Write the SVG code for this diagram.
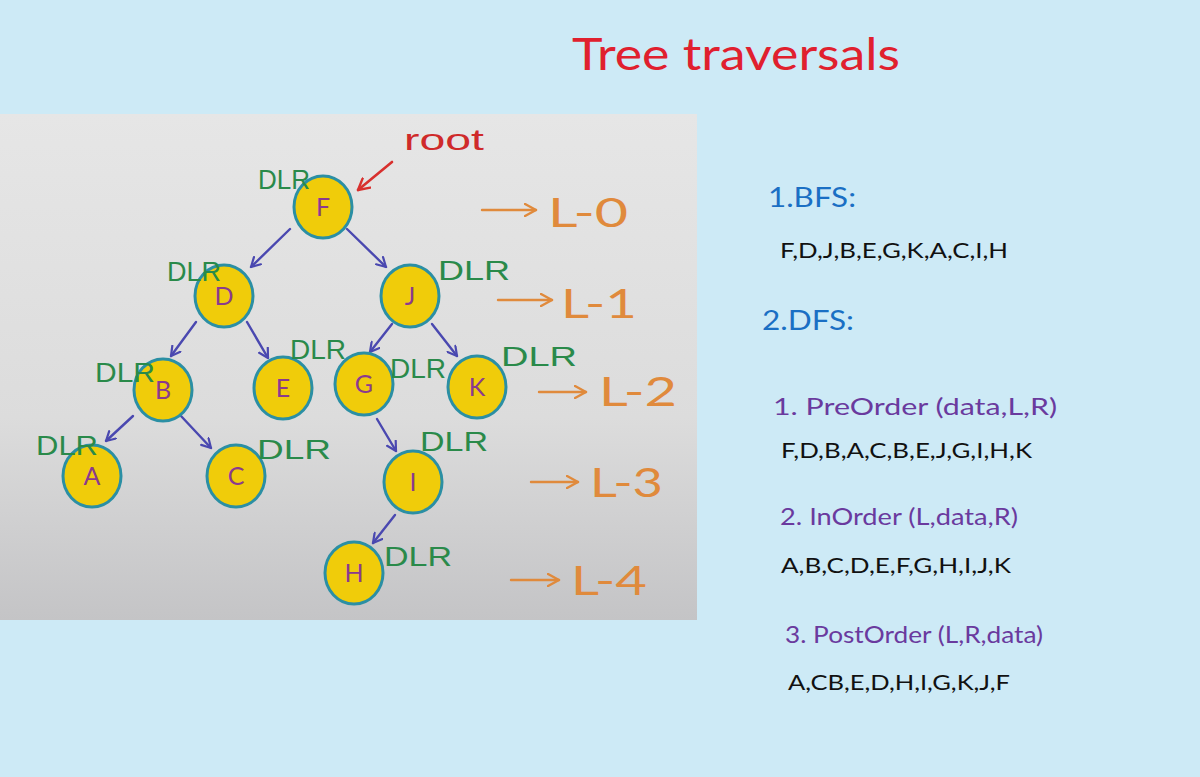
<svg xmlns="http://www.w3.org/2000/svg" width="1200" height="777" viewBox="0 0 1200 777">
<defs>
<linearGradient id="photo" x1="0" y1="0" x2="0" y2="1">
<stop offset="0" stop-color="#e6e6e6"/>
<stop offset="0.6" stop-color="#dcdcdc"/>
<stop offset="1" stop-color="#c4c4c6"/>
</linearGradient>
<marker id="ah" viewBox="0 0 12 12" refX="10" refY="6" markerWidth="12" markerHeight="12" markerUnits="userSpaceOnUse" orient="auto">
<path d="M1,1 L10,6 L1,11" fill="none" stroke="#4a48b0" stroke-width="2.2" stroke-linecap="round" stroke-linejoin="round"/>
</marker>
<marker id="ahr" viewBox="0 0 14 14" refX="12" refY="7" markerWidth="14" markerHeight="14" markerUnits="userSpaceOnUse" orient="auto">
<path d="M1,1 L12,7 L1,13" fill="none" stroke="#d8302e" stroke-width="2.4" stroke-linecap="round" stroke-linejoin="round"/>
</marker>
<marker id="aho" viewBox="0 0 14 14" refX="12" refY="7" markerWidth="14" markerHeight="14" markerUnits="userSpaceOnUse" orient="auto">
<path d="M1,1 L12,7 L1,13" fill="none" stroke="#e08a3c" stroke-width="2.4" stroke-linecap="round" stroke-linejoin="round"/>
</marker>
</defs>
<style>
.node ellipse{fill:#f0cc0a;stroke:#2b8fa4;stroke-width:3}
.node text{font-family:"Lato","Liberation Sans",sans-serif;font-size:25px;fill:#8a3a8e;text-anchor:middle}
.edge{stroke:#4a48b0;stroke-width:2.4;fill:none;marker-end:url(#ah);stroke-linecap:round}
.dlr{font-family:"Liberation Sans",sans-serif;font-size:27px;fill:#2a8a4a}
.lvl{font-family:"Lato","Liberation Sans",sans-serif;font-size:40px;fill:#e08a3c}
.lvla{stroke:#e08a3c;stroke-width:2.4;fill:none;marker-end:url(#aho);stroke-linecap:round}
.hd{font-family:"Lato","Liberation Sans",sans-serif;font-size:27px;fill:#1a6fc4}
.sub{font-family:"Lato","Liberation Sans",sans-serif;font-size:23px;fill:#6a3a9e}
.seq{font-family:"Lato","Liberation Sans",sans-serif;font-size:21px;fill:#111}
</style>
<rect width="1200" height="777" fill="#cdeaf6"/>
<rect x="0" y="114" width="697" height="506" fill="url(#photo)"/>
<text x="572" y="70" font-family="Lato, Liberation Sans, sans-serif" font-size="44" fill="#e0202e" textLength="328" lengthAdjust="spacingAndGlyphs">Tree traversals</text>

<g id="connectors">
<path class="edge" d="M290,229 L251,267"/>
<path class="edge" d="M347,229 L386,267"/>
<path class="edge" d="M196,322 L171,356"/>
<path class="edge" d="M247,322 L268,358"/>
<path class="edge" d="M392,324 L370,352"/>
<path class="edge" d="M432,324 L457,356"/>
<path class="edge" d="M133,416 L106,441"/>
<path class="edge" d="M181,416 L211,448"/>
<path class="edge" d="M377,419 L396,451"/>
<path class="edge" d="M395,515 L373,543"/>
<path d="M392,162 L358,190" stroke="#d8302e" stroke-width="2.6" fill="none" marker-end="url(#ahr)" stroke-linecap="round"/>
</g>

<text x="404" y="150" font-family="Liberation Sans, sans-serif" font-size="30" fill="#cf2a2a" textLength="80" lengthAdjust="spacingAndGlyphs">root</text>

<g id="node-F" class="node"><ellipse cx="323" cy="207" rx="29" ry="31"/><text x="323" y="216">F</text></g>
<g id="node-D" class="node"><ellipse cx="224" cy="296" rx="29" ry="31"/><text x="224" y="305">D</text></g>
<g id="node-J" class="node"><ellipse cx="410" cy="296" rx="29" ry="31"/><text x="410" y="305">J</text></g>
<g id="node-B" class="node"><ellipse cx="163" cy="390" rx="29" ry="31"/><text x="163" y="399">B</text></g>
<g id="node-E" class="node"><ellipse cx="283" cy="388" rx="29" ry="31"/><text x="283" y="397">E</text></g>
<g id="node-G" class="node"><ellipse cx="364" cy="384" rx="29" ry="31"/><text x="364" y="393">G</text></g>
<g id="node-K" class="node"><ellipse cx="477" cy="387" rx="29" ry="31"/><text x="477" y="396">K</text></g>
<g id="node-A" class="node"><ellipse cx="92" cy="476" rx="29" ry="31"/><text x="92" y="485">A</text></g>
<g id="node-C" class="node"><ellipse cx="236" cy="476" rx="29" ry="31"/><text x="236" y="485">C</text></g>
<g id="node-I" class="node"><ellipse cx="413" cy="482" rx="29" ry="31"/><text x="413" y="491">I</text></g>
<g id="node-H" class="node"><ellipse cx="354" cy="573" rx="29" ry="31"/><text x="354" y="582">H</text></g>

<g id="dlr-labels">
<text class="dlr" x="258" y="189" textLength="52" lengthAdjust="spacingAndGlyphs">DLR</text>
<text class="dlr" x="167" y="281" textLength="54" lengthAdjust="spacingAndGlyphs">DLR</text>
<text class="dlr" x="438" y="280" textLength="72" lengthAdjust="spacingAndGlyphs">DLR</text>
<text class="dlr" x="95" y="382" textLength="60" lengthAdjust="spacingAndGlyphs">DLR</text>
<text class="dlr" x="290" y="359" textLength="56" lengthAdjust="spacingAndGlyphs">DLR</text>
<text class="dlr" x="390" y="378" textLength="56" lengthAdjust="spacingAndGlyphs">DLR</text>
<text class="dlr" x="501" y="366" textLength="76" lengthAdjust="spacingAndGlyphs">DLR</text>
<text class="dlr" x="36" y="455" textLength="62" lengthAdjust="spacingAndGlyphs">DLR</text>
<text class="dlr" x="257" y="459" textLength="74" lengthAdjust="spacingAndGlyphs">DLR</text>
<text class="dlr" x="420" y="451" textLength="68" lengthAdjust="spacingAndGlyphs">DLR</text>
<text class="dlr" x="384" y="566" textLength="68" lengthAdjust="spacingAndGlyphs">DLR</text>
</g>

<g id="levels">
<path class="lvla" d="M482,210 L536,210"/><text class="lvl" x="548" y="227" textLength="80" lengthAdjust="spacingAndGlyphs">L-0</text>
<path class="lvla" d="M498,300 L552,300"/><text class="lvl" x="561" y="318" textLength="76" lengthAdjust="spacingAndGlyphs">L-1</text>
<path class="lvla" d="M539,392 L586,392"/><text class="lvl" x="599" y="406" textLength="78" lengthAdjust="spacingAndGlyphs">L-2</text>
<path class="lvla" d="M531,482 L578,482"/><text class="lvl" x="590" y="497" textLength="73" lengthAdjust="spacingAndGlyphs">L-3</text>
<path class="lvla" d="M511,580 L559,580"/><text class="lvl" x="571" y="595" textLength="76" lengthAdjust="spacingAndGlyphs">L-4</text>
</g>

<g id="traversals">
<text class="hd" x="768" y="207" textLength="88" lengthAdjust="spacingAndGlyphs">1.BFS:</text>
<text class="seq" x="780" y="258" textLength="228" lengthAdjust="spacingAndGlyphs">F,D,J,B,E,G,K,A,C,I,H</text>
<text class="hd" x="762" y="330" textLength="92" lengthAdjust="spacingAndGlyphs">2.DFS:</text>
<text class="sub" x="773" y="415" textLength="284" lengthAdjust="spacingAndGlyphs">1. PreOrder (data,L,R)</text>
<text class="seq" x="781" y="458" textLength="251" lengthAdjust="spacingAndGlyphs">F,D,B,A,C,B,E,J,G,I,H,K</text>
<text class="sub" x="780" y="525" textLength="238" lengthAdjust="spacingAndGlyphs">2. InOrder (L,data,R)</text>
<text class="seq" x="781" y="573" textLength="230" lengthAdjust="spacingAndGlyphs">A,B,C,D,E,F,G,H,I,J,K</text>
<text class="sub" x="785" y="643" textLength="258" lengthAdjust="spacingAndGlyphs">3. PostOrder (L,R,data)</text>
<text class="seq" x="788" y="690" textLength="222" lengthAdjust="spacingAndGlyphs">A,CB,E,D,H,I,G,K,J,F</text>
</g>
</svg>
